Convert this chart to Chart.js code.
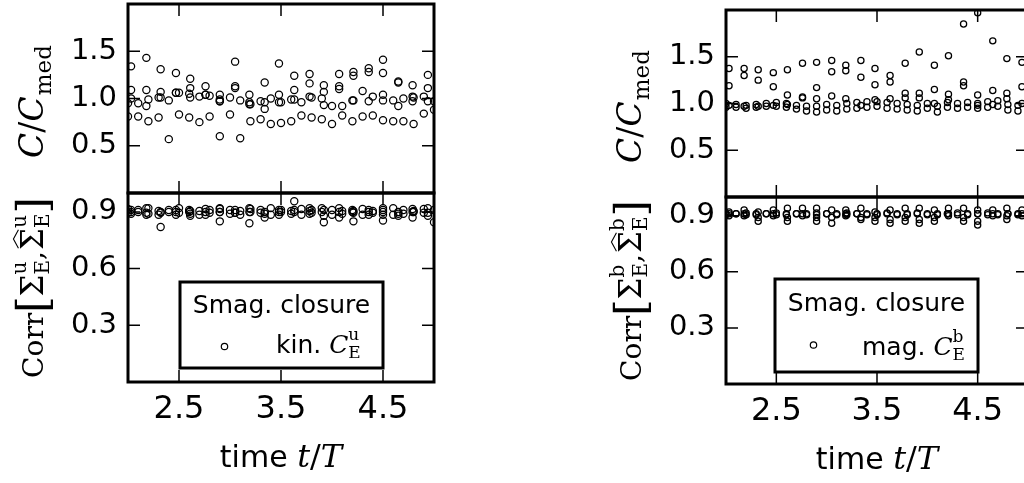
<!DOCTYPE html>
<html><head><meta charset="utf-8">
<script src="https://cdn.jsdelivr.net/npm/chart.js@4.4.1/dist/chart.umd.min.js"></script>
<style>
html,body{margin:0;padding:0;background:#fff;overflow:hidden;width:1024px;height:483px;position:relative;}
canvas{position:absolute;}
</style></head><body>
<canvas id="lt" width="450" height="269" style="left:0;top:-36px"></canvas>
<canvas id="lb" width="450" height="330" style="left:0;top:153px"></canvas>
<canvas id="rt" width="450" height="267" style="left:598px;top:-30px"></canvas>
<canvas id="rb" width="450" height="326" style="left:598px;top:157px"></canvas>
<script>
// ---------- data ----------
const timeFine = [2.0,2.1,2.2,2.3,2.4,2.5,2.6,2.7,2.8,2.9,3.0,3.1,3.2,3.3,3.4,3.5,3.6,3.7,3.8,3.9,4.0,4.1,4.2,4.3,4.4,4.5,4.6,4.7,4.8,4.9,5.0];
const timeCoarse = [2.03,2.18,2.32,2.47,2.61,2.76,2.90,3.05,3.19,3.34,3.48,3.63,3.78,3.92,4.07,4.21,4.36,4.50,4.65,4.79,4.94];
const xTicks = [2.5,3.5,4.5];
const ratioTicks = [0.5,1.0,1.5];
const corrTicks = [0.3,0.6,0.9];

// kinetic (left) C/Cmed
const kinHigh   = [1.34,1.43,1.31,1.27,1.21,1.13,1.04,1.39,1.04,1.17,1.37,1.24,1.26,1.14,1.26,1.28,1.32,1.41,1.18,1.14,1.25];
const kinUpper  = [1.09,1.09,1.07,1.06,1.11,1.04,0.99,1.13,0.96,0.96,1.04,1.09,1.16,1.07,1.13,1.24,1.28,1.27,1.17,1.02,1.11];
const kinMiddle = [1.00,0.92,1.01,1.06,1.01,1.04,0.97,1.11,0.94,0.89,0.96,0.99,1.02,0.93,1.10,0.98,0.97,1.04,0.92,0.97,0.97];
const kinCenter = [0.95,0.95,0.99,1.01,0.98,1.06,1.05,1.02,1.03,0.97,1.01,0.98,0.94,0.97,1.00,0.96,0.99,0.96,1.01,1.00,0.92,0.92,0.98,1.08,1.02,0.98,0.98,1.00,1.01,1.02,0.97];
const kinLow    = [0.81,0.81,0.76,0.80,0.57,0.83,0.80,0.75,0.81,0.60,0.83,0.58,0.76,0.78,0.73,0.74,0.76,0.82,0.80,0.78,0.73,0.82,0.76,0.81,0.82,0.77,0.76,0.76,0.73,0.84,0.88];

// kinetic (left) correlation
const corrKinA = [0.91,0.92,0.90,0.91,0.905,0.915,0.92,0.91,0.92,0.90,0.91,0.956,0.92,0.91,0.92,0.905,0.91,0.92,0.90,0.915,0.92];
const corrKinB = [0.89,0.895,0.82,0.885,0.88,0.90,0.85,0.895,0.84,0.87,0.90,0.91,0.89,0.845,0.87,0.85,0.885,0.855,0.88,0.87,0.88];
const corrKinC = [0.90,0.885,0.895,0.90,0.89,0.885,0.90,0.895,0.90,0.89,0.885,0.90,0.905,0.88,0.90,0.895,0.90,0.885,0.89,0.90,0.895];
const corrKinD = [0.915,0.91,0.92,0.905,0.91,0.92,0.91,0.905,0.91,0.915,0.91,0.905,0.915,0.91,0.92,0.91,0.905,0.915,0.91,0.92,0.91,0.905,0.91,0.915,0.905,0.91,0.92,0.91,0.905,0.915,0.91];
const corrKinE = [0.895,0.90,0.89,0.885,0.90,0.895,0.90,0.885,0.895,0.90,0.89,0.885,0.90,0.895,0.885,0.90,0.89,0.885,0.895,0.90,0.885,0.89,0.90,0.885,0.895,0.90,0.885,0.89,0.90,0.895,0.845];

// magnetic (right) C/Cmed
const magHigh   = [1.375,1.375,1.36,1.33,1.36,1.43,1.44,1.46,1.41,1.46,1.375,1.30,1.43,1.55,1.41,1.51,1.85,1.97,1.67,1.48,1.44];
const magUpper  = [1.19,1.30,1.25,1.18,1.09,1.07,1.17,1.34,1.35,1.28,1.20,1.23,1.11,1.11,1.15,1.10,1.23,1.09,1.14,1.11,1.18];
const magMiddle = [0.98,0.97,0.97,0.98,0.99,1.06,1.05,1.08,1.05,0.98,1.04,1.05,1.06,1.06,1.00,1.04,1.19,0.98,0.99,1.05,1.00];
const magCenter = [1.00,0.99,0.98,0.99,1.00,1.01,1.00,0.98,0.97,0.97,0.99,0.98,1.00,1.01,1.02,1.02,1.01,1.00,0.99,0.98,1.00,0.97,1.01,1.00,1.01,1.00,1.02,1.03,0.99,0.98,1.00];
const magLow    = [0.96,0.96,0.95,0.96,0.97,0.97,0.96,0.94,0.92,0.91,0.93,0.92,0.94,0.95,0.96,0.97,0.95,0.94,0.93,0.92,0.95,0.91,0.96,0.95,0.96,0.95,0.96,0.97,0.93,0.92,0.95];

// magnetic (right) correlation
const corrMagA = [0.92,0.93,0.92,0.93,0.94,0.94,0.94,0.93,0.93,0.94,0.92,0.93,0.94,0.94,0.93,0.94,0.94,0.93,0.93,0.94,0.93];
const corrMagB = [0.90,0.91,0.87,0.90,0.87,0.90,0.87,0.86,0.90,0.88,0.87,0.86,0.87,0.86,0.87,0.90,0.87,0.85,0.90,0.88,0.90];
const corrMagC = [0.91,0.90,0.89,0.91,0.89,0.91,0.89,0.89,0.91,0.89,0.89,0.88,0.89,0.88,0.89,0.91,0.89,0.87,0.91,0.90,0.91];
const corrMagD = [0.91,0.91,0.915,0.91,0.91,0.915,0.91,0.91,0.91,0.915,0.91,0.91,0.915,0.91,0.91,0.91,0.915,0.91,0.91,0.915,0.91,0.91,0.91,0.915,0.91,0.91,0.915,0.91,0.91,0.91,0.915];
const corrMagE = [0.905,0.91,0.905,0.905,0.91,0.905,0.905,0.91,0.905,0.905,0.91,0.905,0.905,0.91,0.905,0.905,0.91,0.905,0.905,0.91,0.905,0.905,0.91,0.905,0.905,0.91,0.905,0.905,0.91,0.905,0.905];

// ---------- text helpers ----------
const SANS = '"DejaVu Sans", sans-serif';
const SERIF = '"DejaVu Serif", serif';
function fontStr(k, s){
  if (k === 'it') return `italic ${s}px ${SERIF}`;
  if (k === 'rm') return `${s}px ${SERIF}`;
  return `${s}px ${SANS}`;
}
function measure(ctx, pieces){
  let w = 0;
  for (const p of pieces){
    if (p.stack){
      let m = 0;
      for (const q of p.stack){ ctx.font = fontStr(q.k, q.s); m = Math.max(m, ctx.measureText(q.t).width); }
      p._w = m + (p.gap || 0);
    } else {
      ctx.font = fontStr(p.k, p.s);
      p._w = ctx.measureText(p.t).width + (p.gap || 0);
    }
    w += p._w;
  }
  return w;
}
function drawRich(ctx, pieces, x, y, rotate, align){
  ctx.save();
  ctx.fillStyle = '#000'; ctx.strokeStyle = '#000';
  ctx.textBaseline = 'alphabetic'; ctx.textAlign = 'left';
  const w = measure(ctx, pieces);
  ctx.translate(x, y);
  if (rotate) ctx.rotate(-Math.PI/2);
  let cx = align === 'left' ? 0 : -w/2;
  for (const p of pieces){
    if (p.stack){
      for (const q of p.stack){ ctx.font = fontStr(q.k, q.s); ctx.fillText(q.t, cx, -(q.dy || 0)); }
    } else {
      ctx.font = fontStr(p.k, p.s);
      ctx.fillText(p.t, cx, -(p.dy || 0));
      if (p.hat){
        const gw = ctx.measureText(p.t).width;
        const top = -(p.dy || 0) - p.s*0.76;
        ctx.beginPath();
        ctx.moveTo(cx + gw*0.08, top - 1);
        ctx.lineTo(cx + gw*0.5, top - 6);
        ctx.lineTo(cx + gw*0.92, top - 1);
        ctx.lineWidth = 1.1; ctx.stroke();
      }
    }
    cx += p._w;
  }
  ctx.restore();
}

const ratioLabel = [
  {t:'C', k:'it', s:33}, {t:'/', k:'rm', s:33}, {t:'C', k:'it', s:33, gap:1},
  {t:'med', k:'rm', s:23, dy:-8}
];
function corrLabel(sup){
  return [
    {t:'Corr', k:'rm', s:28},
    {t:'[', k:'rm', s:42, dy:-4},
    {t:'Σ', k:'rm', s:31},
    {stack:[{t:sup, k:'rm', s:20, dy:17}, {t:'E', k:'rm', s:20, dy:-6}]},
    {t:',', k:'rm', s:28, gap:1},
    {t:'Σ', k:'rm', s:31, hat:true},
    {stack:[{t:sup, k:'rm', s:20, dy:17}, {t:'E', k:'rm', s:20, dy:-6}]},
    {t:']', k:'rm', s:42, dy:-4}
  ];
}
const timeLabel = [{t:'time ', k:'sans', s:30}, {t:'t', k:'it', s:32}, {t:'/', k:'rm', s:32}, {t:'T', k:'it', s:32}];
function legendLabel(word, sup){
  return [{t:word + ' ', k:'sans', s:25}, {t:'C', k:'it', s:25},
          {stack:[{t:sup, k:'rm', s:17, dy:13}, {t:'E', k:'rm', s:17, dy:-5}]}];
}

// ---------- chart builder ----------
function buildChart(id, cfg){
  const datasets = cfg.series.map(([t, v]) => ({
    data: t.map((x, i) => ({x, y: v[i]})),
    showLine: false,
    pointStyle: 'circle',
    pointRadius: cfg.r, pointHoverRadius: cfg.r,
    pointBorderWidth: 1.25, pointHoverBorderWidth: 1.25,
    pointBorderColor: '#000', pointBackgroundColor: 'rgba(0,0,0,0)',
    borderColor: '#000', backgroundColor: 'rgba(0,0,0,0)',
    clip: 0
  }));
  const framePlugin = {
    id: 'frame' + id,
    afterDatasetsDraw(chart){
      const {ctx, chartArea: a} = chart;
      const xs = chart.scales.x, ys = chart.scales.y;
      ctx.save();
      ctx.strokeStyle = '#000';
      ctx.lineWidth = 1.5;
      ctx.beginPath();
      for (const v of xTicks){
        const p = xs.getPixelForValue(v);
        ctx.moveTo(p, a.top); ctx.lineTo(p, a.top + 12);
        ctx.moveTo(p, a.bottom); ctx.lineTo(p, a.bottom - 12);
      }
      for (const v of cfg.yTicks){
        const p = ys.getPixelForValue(v);
        ctx.moveTo(a.left, p); ctx.lineTo(a.left + 12, p);
        ctx.moveTo(a.right, p); ctx.lineTo(a.right - 12, p);
      }
      ctx.stroke();
      ctx.lineWidth = 3;
      ctx.strokeRect(a.left, a.top, a.right - a.left, a.bottom - a.top);
      ctx.restore();

      drawRich(ctx, cfg.yTitle, 43, (a.top + a.bottom)/2 + (cfg.yTitleShift || 0), true, 'center');
      if (cfg.xTitle) drawRich(ctx, cfg.xTitle, (a.left + a.right)/2, a.bottom + 85, false, 'center');

      if (cfg.legend){
        const L = cfg.legend;
        const bx = a.left + L.dx, by = a.top + L.dy;
        ctx.save();
        ctx.fillStyle = '#fff';
        ctx.fillRect(bx, by, L.w, L.h);
        ctx.lineWidth = 3; ctx.strokeStyle = '#000';
        ctx.strokeRect(bx, by, L.w, L.h);
        ctx.fillStyle = '#000';
        ctx.font = fontStr('sans', 25);
        ctx.textAlign = 'center'; ctx.textBaseline = 'alphabetic';
        ctx.fillText('Smag. closure', bx + L.w/2, by + L.titleDy);
        ctx.beginPath();
        ctx.arc(bx + L.mdx, by + L.mdy, 3.2, 0, Math.PI*2);
        ctx.lineWidth = 1.2; ctx.stroke();
        ctx.restore();
        drawRich(ctx, L.label, bx + L.ldx, by + L.ldy, false, 'left');
      }
    }
  };
  return new Chart(document.getElementById(id), {
    type: 'scatter',
    data: {datasets},
    options: {
      responsive: false, animation: false, devicePixelRatio: 1, events: [],
      layout: {padding: cfg.pad, autoPadding: false},
      plugins: {legend: {display: false}, tooltip: {enabled: false}},
      scales: {
        x: {
          type: 'linear', min: 2.0, max: 5.0, display: cfg.showX,
          afterBuildTicks: ax => { ax.ticks = xTicks.map(v => ({value: v})); },
          grid: {display: false, drawTicks: false}, border: {display: false},
          ticks: {font: {family: '"DejaVu Sans"', size: 32}, color: '#000', padding: 8,
                  maxRotation: 0, autoSkip: false, callback: v => v.toFixed(1)},
          afterFit: s => { if (cfg.showX) s.height = cfg.xH; }
        },
        y: {
          type: 'linear', min: cfg.yMin, max: cfg.yMax,
          afterBuildTicks: ax => { ax.ticks = cfg.yTicks.map(v => ({value: v})); },
          grid: {display: false, drawTicks: false}, border: {display: false},
          ticks: {font: {family: '"DejaVu Sans"', size: 29}, color: '#000', padding: 11,
                  autoSkip: false, callback: v => v.toFixed(1)},
          afterFit: s => { s.width = 128; }
        }
      }
    },
    plugins: [framePlugin]
  });
}

buildChart('lt', {
  series: [[timeCoarse, kinHigh], [timeCoarse, kinUpper], [timeCoarse, kinMiddle], [timeFine, kinCenter], [timeFine, kinLow]],
  r: 3.6, yMin: 0, yMax: 2.0, yTicks: ratioTicks, showX: false,
  pad: {left: 0, top: 40, right: 16, bottom: 40}, yTitle: ratioLabel, yTitleShift: 3
});
buildChart('lb', {
  series: [[timeCoarse, corrKinA], [timeCoarse, corrKinB], [timeCoarse, corrKinC], [timeFine, corrKinD], [timeFine, corrKinE]],
  r: 3.6, yMin: 0, yMax: 1.0, yTicks: corrTicks, showX: true, xH: 101,
  pad: {left: 0, top: 40, right: 16, bottom: 0}, yTitle: corrLabel('u'), xTitle: timeLabel,
  legend: {dx: 52, dy: 89, w: 203, h: 86, titleDy: 31, mdx: 44.5, mdy: 64.5, ldx: 96, ldy: 71, label: legendLabel('kin.', 'u')}
});
buildChart('rt', {
  series: [[timeCoarse, magHigh], [timeCoarse, magUpper], [timeCoarse, magMiddle], [timeFine, magCenter], [timeFine, magLow]],
  r: 3.1, yMin: 0, yMax: 2.0, yTicks: ratioTicks, showX: false,
  pad: {left: 0, top: 40, right: 20, bottom: 40}, yTitle: ratioLabel, yTitleShift: 3
});
buildChart('rb', {
  series: [[timeCoarse, corrMagA], [timeCoarse, corrMagB], [timeCoarse, corrMagC], [timeFine, corrMagD], [timeFine, corrMagE]],
  r: 3.1, yMin: 0, yMax: 1.0, yTicks: corrTicks, showX: true, xH: 99,
  pad: {left: 0, top: 40, right: 20, bottom: 0}, yTitle: corrLabel('b'), xTitle: timeLabel,
  legend: {dx: 49, dy: 82, w: 203, h: 93, titleDy: 31.5, mdx: 38.5, mdy: 66, ldx: 87, ldy: 76, label: legendLabel('mag.', 'b')}
});
</script>
</body></html>
